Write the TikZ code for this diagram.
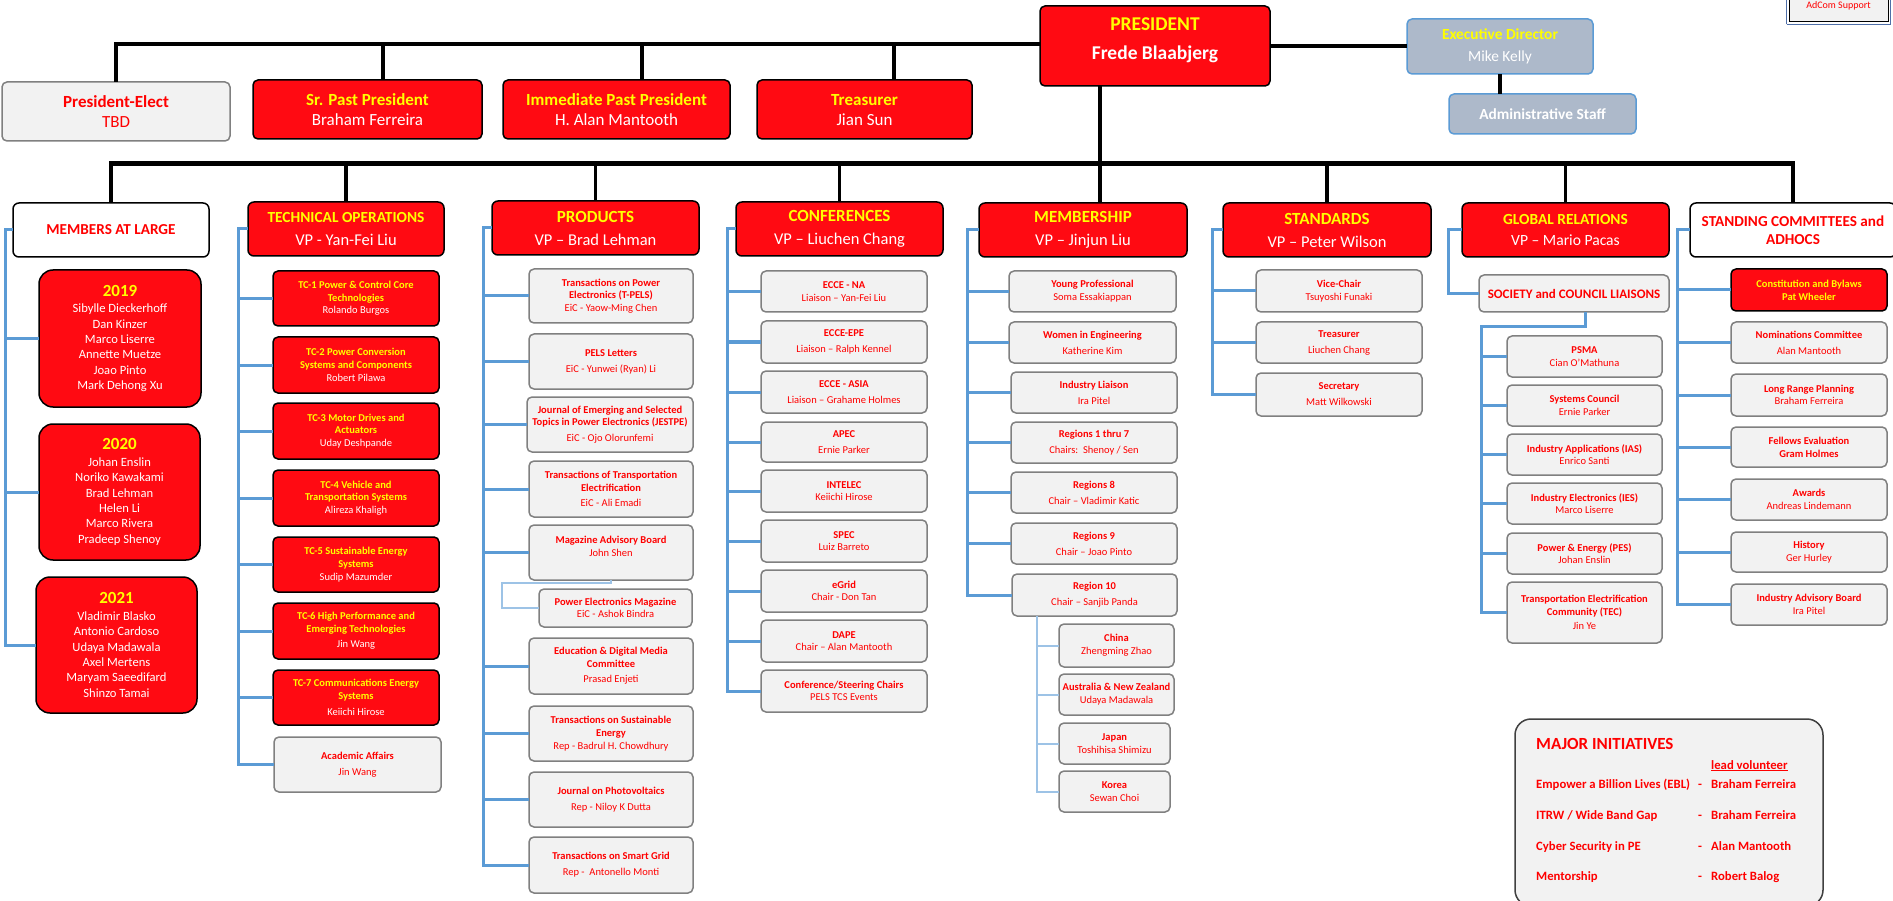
\documentclass[tikz,border=0pt]{standalone}
\usepackage{fontspec}
\setmainfont{Carlito}
\usetikzlibrary{calc}
\definecolor{rd}{HTML}{FF0A12}
\definecolor{yel}{HTML}{FFFF00}
\definecolor{rtx}{HTML}{FF0000}
\definecolor{gf}{HTML}{F2F2F2}
\definecolor{gd}{HTML}{808080}
\definecolor{lnb}{HTML}{5B9BD5}
\definecolor{lnl}{HTML}{9DC3E6}
\definecolor{edf}{HTML}{ADB9CA}
\definecolor{adb}{HTML}{4F6FA8}
\newcommand\TY[1]{{\bfseries\color{yel}#1}}
\newcommand\TB[1]{{\bfseries #1}}
\newcommand\YR[1]{{\fontsize{17}{17}\selectfont\bfseries\color{yel}#1}}
\newcommand\HT[2]{{\fontsize{#1}{#1}\selectfont\bfseries\color{yel}#2}}
\newcommand\obox[7]{%
  \pgfmathsetmacro\myW{#5-#3}%
  \pgfmathsetmacro\myH{#6-#4}%
  \node[#2, minimum width=\myW pt, minimum height=\myH pt] (#1) at ({(#3+#5)/2},{(#4+#6)/2}) {#7};}
\newcommand\colwire[4]{%
  \draw[bl] (#2.west) -- (#2.west -| #1) -- (#4.west -| #1) -- (#4.west);
  \foreach \nn in {#3} {\draw[bl] (\nn.west) -- (\nn.west -| #1);}}
\tikzset{
  bk/.style={draw=black, line width=4pt},
  busl/.style={draw=black, line width=5pt},
  drp/.style={draw=black, line width=3.5pt},
  bl/.style={draw=lnb, line width=3pt},
  lbl/.style={draw=lnl, line width=2pt},
  base/.style={align=center, inner sep=1pt, outer sep=0pt, rounded corners=5pt, line width=1.5pt},
  rbox/.style={base, fill=rd, draw=black, text=white, font=\fontsize{10.5}{12.7}\selectfont},
  gbox/.style={base, fill=gf, draw=gd, text=rtx, font=\fontsize{10.5}{12.7}\selectfont},
  hred/.style={rbox, rounded corners=6pt, font=\fontsize{16.5}{19}\selectfont},
  hwht/.style={base, rounded corners=6pt, fill=white, draw=black, text=rtx, font=\fontsize{15.2}{18}\selectfont},
  tred/.style={rbox, font=\fontsize{17}{19}\selectfont},
  tgry/.style={gbox, font=\fontsize{17}{19}\selectfont},
  yrbox/.style={rbox, rounded corners=14pt, font=\fontsize{12.6}{15.4}\selectfont},
  edbox/.style={base, fill=edf, draw=lnb, text=white, font=\fontsize{15.4}{18}\selectfont},
  socbox/.style={gbox, font=\fontsize{13}{15}\selectfont},
  adbox/.style={base, rounded corners=0pt, fill=gf, draw=black, line width=1pt, text=rtx, font=\fontsize{10}{12}\selectfont},
  mibox/.style={base, rounded corners=16pt, fill=gf, draw=black!75, line width=1.5pt},
  mitx/.style={text=rtx, font=\fontsize{12.7}{15}\selectfont\bfseries, inner sep=0pt, anchor=base west},
}
\begin{document}
\begin{tikzpicture}[x=1pt,y=-1pt]
\clip (0,0) rectangle (1893,901);
\fill[white] (0,0) rectangle (1893,901);

% ---------- top row ----------
\obox{pe}{tgry}{2}{82}{230}{141}{\raisebox{-2pt}[\height][\depth]{\begin{tabular}{@{}c@{}}\TB{President-Elect}\\[1pt]TBD\end{tabular}}}
\obox{spp}{tred}{253}{80}{482}{139}{\raisebox{-2pt}[\height][\depth]{\begin{tabular}{@{}c@{}}\TY{Sr. Past President}\\[1pt]Braham Ferreira\end{tabular}}}
\obox{ipp}{tred}{503}{80}{730}{139}{\raisebox{-2pt}[\height][\depth]{\begin{tabular}{@{}c@{}}\TY{Immediate Past President}\\[1pt]H. Alan Mantooth\end{tabular}}}
\obox{trs}{tred}{757}{80}{972}{139}{\raisebox{-2pt}[\height][\depth]{\begin{tabular}{@{}c@{}}\TY{Treasurer}\\[1pt]Jian Sun\end{tabular}}}
\obox{pres}{rbox}{1040}{6}{1270}{86}{\raisebox{5pt}[\height][\depth]{\fontsize{19.5}{22}\selectfont\begin{tabular}{@{}c@{}}\TY{PRESIDENT}\\[7pt]\TB{Frede Blaabjerg}\end{tabular}}}
\obox{ed}{edbox}{1407}{19}{1593}{74}{\TY{Executive Director}\\[4pt]Mike Kelly}
\obox{adm}{edbox}{1449}{94}{1636}{134}{\TB{Administrative Staff}}
\obox{adc}{adbox}{1789}{-10}{1888}{22}{AdCom Support}
\draw[adb, line width=1.5pt] ([shift={(-2.5,2.5)}]adc.south west) -- ([shift={(2.5,2.5)}]adc.south east) -- ([shift={(2.5,-2.5)}]adc.north east);
\draw[adb, line width=1.5pt] ([shift={(-2.5,2.5)}]adc.south west) -- ([shift={(-2.5,-2.5)}]adc.north west);

\coordinate (tl) at (115,44);
\draw[bk] (pe.north) -- (pe.north |- tl) -- (tl -| pres.west);
\draw[bk] ([xshift=15pt]spp.north) -- ([xshift=15pt]spp.north |- tl);
\draw[bk] ([xshift=25pt]ipp.north) -- ([xshift=25pt]ipp.north |- tl);
\draw[bk] ([xshift=29pt]trs.north) -- ([xshift=29pt]trs.north |- tl);
\draw[bk] (pres.east) -- (pres.east -| ed.west);
\draw[bk] (ed.south) -- (ed.south |- adm.north);

% ---------- column headers ----------
\obox{mal}{hwht}{13}{203}{209}{257}{\TB{MEMBERS AT LARGE}}
\obox{tec}{hred}{248}{202}{444}{256}{\HT{15.4}{TECHNICAL OPERATIONS}\\[4pt]VP - Yan-Fei Liu}
\obox{prd}{hred}{492}{201}{699}{255}{\HT{17}{PRODUCTS}\\[4pt]VP – Brad Lehman}
\obox{cnf}{hred}{736}{202}{943}{256}{\HT{17}{CONFERENCES}\\[4pt]VP – Liuchen Chang}
\obox{mem}{hred}{979}{203}{1187}{257}{\HT{17}{MEMBERSHIP}\\[4pt]VP – Jinjun Liu}
\obox{std}{hred}{1223}{203}{1431}{257}{\HT{17}{STANDARDS}\\[4pt]VP – Peter Wilson}
\obox{glb}{hred}{1462}{203}{1669}{257}{\HT{15.4}{GLOBAL RELATIONS}\\[2pt]\fontsize{15.6}{18}\selectfont VP – Mario Pacas}
\obox{stc}{hwht}{1690}{203}{1896}{257}{\TB{STANDING COMMITTEES and}\\[0pt]\TB{ADHOCS}}

\coordinate (busL) at (109,164);
\coordinate (busR) at (1795,164);
\draw[busl] (busL) -- (busR);
\draw[drp] ([xshift=-55pt]pres.south) -- ([xshift=-55pt]pres.south |- mem.north);
\foreach \hh in {mal,tec,prd,cnf,std,glb,stc} {\draw[drp] (\hh.north) -- (\hh.north |- busL);}

% ---------- members at large ----------
\obox{y19}{yrbox}{39}{270}{201}{407}{\YR{2019}\\[1pt]Sibylle Dieckerhoff\\Dan Kinzer\\Marco Liserre\\Annette Muetze\\Joao Pinto\\Mark Dehong Xu}
\obox{y20}{yrbox}{39}{424}{200}{560}{\YR{2020}\\[1pt]Johan Enslin\\Noriko Kawakami\\Brad Lehman\\Helen Li\\Marco Rivera\\Pradeep Shenoy}
\obox{y21}{yrbox}{36}{577}{197}{713}{\YR{2021}\\[1pt]Vladimir Blasko\\Antonio Cardoso\\Udaya Madawala\\Axel Mertens\\Maryam Saeedifard\\Shinzo Tamai}
\coordinate (vmal) at (5,0);
\colwire{vmal}{mal}{y19,y20}{y21}

% ---------- technical operations ----------
\obox{tc1}{rbox}{273}{271}{439}{326}{\TY{TC-1 Power \& Control Core}\\\TY{Technologies}\\Rolando Burgos}
\obox{tc2}{rbox}{273}{337}{439}{393}{\TY{TC-2 Power Conversion}\\\TY{Systems and Components}\\Robert Pilawa}
\obox{tc3}{rbox}{273}{403}{439}{459}{\TY{TC-3 Motor Drives and}\\\TY{Actuators}\\Uday Deshpande}
\obox{tc4}{rbox}{273}{470}{439}{526}{\TY{TC-4 Vehicle and}\\\TY{Transportation Systems}\\Alireza Khaligh}
\obox{tc5}{rbox}{273}{537}{439}{592}{\TY{TC-5 Sustainable Energy}\\\TY{Systems}\\Sudip Mazumder}
\obox{tc6}{rbox}{273}{603}{439}{659}{\TY{TC-6 High Performance and}\\\TY{Emerging Technologies}\\[3pt]Jin Wang}
\obox{tc7}{rbox}{273}{670}{439}{725}{\TY{TC-7 Communications Energy}\\\TY{Systems}\\[3pt]Keiichi Hirose}
\obox{aca}{gbox}{274}{737}{441}{792}{\TB{Academic Affairs}\\[3.3pt]Jin Wang}
\coordinate (vtec) at (238,0);
\colwire{vtec}{tec}{tc1,tc2,tc3,tc4,tc5,tc6,tc7}{aca}

% ---------- products ----------
\obox{p1}{gbox}{529}{269}{693}{323}{\TB{Transactions on Power}\\\TB{Electronics (T-PELS)}\\EiC - Yaow-Ming Chen}
\obox{p2}{gbox}{529}{334}{693}{389}{\TB{PELS Letters}\\[3.3pt]EiC - Yunwei (Ryan) Li}
\obox{p3}{gbox}{527}{397}{693}{452}{\TB{Journal of Emerging and Selected}\\\TB{Topics in Power Electronics (JESTPE)}\\[3pt]EiC - Ojo Olorunfemi}
\obox{p4}{gbox}{529}{461}{693}{517}{\TB{Transactions of Transportation}\\\TB{Electrification}\\[3pt]EiC - Ali Emadi}
\obox{p5}{gbox}{529}{525}{693}{580}{\raisebox{5pt}[\height][\depth]{\begin{tabular}{@{}c@{}}\TB{Magazine Advisory Board}\\John Shen\end{tabular}}}
\obox{pem}{gbox}{539}{589}{692}{627}{\TB{Power Electronics Magazine}\\EiC - Ashok Bindra}
\obox{p6}{gbox}{529}{638}{693}{694}{\TB{Education \& Digital Media}\\\TB{Committee}\\[3pt]Prasad Enjeti}
\obox{p7}{gbox}{529}{706}{693}{761}{\TB{Transactions on Sustainable}\\\TB{Energy}\\Rep - Badrul H. Chowdhury}
\obox{p8}{gbox}{529}{772}{693}{827}{\TB{Journal on Photovoltaics}\\[3.3pt]Rep - Niloy K Dutta}
\obox{p9}{gbox}{529}{837}{693}{893}{\TB{Transactions on Smart Grid}\\[3.3pt]Rep -\ \ Antonello Monti}
\coordinate (vprd) at (483,0);
\colwire{vprd}{prd}{p1,p2,p3,p4,p5,p6,p7,p8}{p9}
\coordinate (pbk) at (502,583);
\draw[lbl] (p5.south) |- (pbk) |- (pem.west);

% ---------- conferences ----------
\obox{c1}{gbox}{761}{271}{927}{312}{\TB{ECCE - NA}\\Liaison – Yan-Fei Liu}
\obox{c2}{gbox}{761}{321}{927}{363}{\TB{ECCE-EPE}\\[3.3pt]Liaison – Ralph Kennel}
\obox{c3}{gbox}{761}{371}{927}{413}{\TB{ECCE - ASIA}\\[3.3pt]Liaison – Grahame Holmes}
\obox{c4}{gbox}{761}{422}{927}{462}{\TB{APEC}\\[3.3pt]Ernie Parker}
\obox{c5}{gbox}{761}{470}{927}{512}{\TB{INTELEC}\\Keiichi Hirose}
\obox{c6}{gbox}{761}{520}{927}{562}{\TB{SPEC}\\Luiz Barreto}
\obox{c7}{gbox}{761}{570}{927}{612}{\TB{eGrid}\\Chair - Don Tan}
\obox{c8}{gbox}{761}{620}{927}{662}{\TB{DAPE}\\Chair – Alan Mantooth}
\obox{c9}{gbox}{761}{670}{927}{712}{\TB{Conference/Steering Chairs}\\PELS TCS Events}
\coordinate (vcnf) at (727,0);
\colwire{vcnf}{cnf}{c1,c2,c3,c4,c5,c6,c7,c8}{c9}

% ---------- membership ----------
\obox{m1}{gbox}{1009}{271}{1176}{312}{\TB{Young Professional}\\Soma Essakiappan}
\obox{m2}{gbox}{1009}{322}{1176}{363}{\TB{Women in Engineering}\\[3.3pt]Katherine Kim}
\obox{m3}{gbox}{1011}{372}{1177}{413}{\TB{Industry Liaison}\\[3.3pt]Ira Pitel}
\obox{m4}{gbox}{1011}{422}{1177}{463}{\TB{Regions 1 thru 7}\\[3.3pt]Chairs:\ \ Shenoy / Sen}
\obox{m5}{gbox}{1011}{472}{1177}{513}{\TB{Regions 8}\\[3.3pt]Chair – Vladimir Katic}
\obox{m6}{gbox}{1011}{523}{1177}{564}{\TB{Regions 9}\\[3.3pt]Chair – Joao Pinto}
\obox{m7}{gbox}{1012}{574}{1177}{616}{\TB{Region 10}\\[3.3pt]Chair – Sanjib Panda}
\coordinate (vmem) at (967,0);
\colwire{vmem}{mem}{m1,m2,m3,m4,m5,m6}{m7}
\obox{r1}{gbox}{1059}{624}{1174}{667}{\TB{China}\\Zhengming Zhao}
\obox{r2}{gbox}{1059}{674}{1174}{715}{\TB{Australia \& New Zealand}\\Udaya Madawala}
\obox{r3}{gbox}{1059}{723}{1170}{764}{\TB{Japan}\\Toshihisa Shimizu}
\obox{r4}{gbox}{1059}{771}{1170}{812}{\TB{Korea}\\Sewan Choi}
\coordinate (vreg) at (1037,0);
\draw[lbl] (m7.south -| vreg) -- (r4.west -| vreg) -- (r4.west);
\foreach \nn in {r1,r2,r3} {\draw[lbl] (\nn.west) -- (\nn.west -| vreg);}

% ---------- standards ----------
\obox{s1}{gbox}{1256}{270}{1422}{312}{\TB{Vice-Chair}\\Tsuyoshi Funaki}
\obox{s2}{gbox}{1256}{322}{1422}{363}{\TB{Treasurer}\\[3.3pt]Liuchen Chang}
\obox{s3}{gbox}{1256}{373}{1422}{416}{\TB{Secretary}\\[3.3pt]Matt Wilkowski}
\coordinate (vstd) at (1212,0);
\colwire{vstd}{std}{s1,s2}{s3}

% ---------- global relations ----------
\obox{soc}{socbox}{1479}{275}{1669}{312}{\TB{SOCIETY and COUNCIL LIAISONS}}
\coordinate (vglb) at (1448,0);
\draw[bl] (glb.west) -- (glb.west -| vglb) -- (soc.west -| vglb) -- (soc.west);
\obox{g1}{gbox}{1507}{336}{1662}{377}{\TB{PSMA}\\Cian O’Mathuna}
\obox{g2}{gbox}{1507}{385}{1662}{426}{\TB{Systems Council}\\Ernie Parker}
\obox{g3}{gbox}{1507}{434}{1662}{475}{\TB{Industry Applications (IAS)}\\Enrico Santi}
\obox{g4}{gbox}{1507}{483}{1662}{524}{\TB{Industry Electronics (IES)}\\Marco Liserre}
\obox{g5}{gbox}{1507}{533}{1662}{574}{\TB{Power \& Energy (PES)}\\Johan Enslin}
\obox{g6}{gbox}{1507}{582}{1662}{643}{\TB{Transportation Electrification}\\\TB{Community (TEC)}\\[2pt]Jin Ye}
\coordinate (gbus) at (1481,327);
\draw[bl] ([xshift=11pt]soc.south) |- (gbus) -- (gbus |- g6.west) -- (g6.west);
\foreach \nn in {g1,g2,g3,g4,g5} {\draw[bl] (\nn.west) -- (\nn.west -| gbus);}

% ---------- standing committees ----------
\obox{k1}{rbox}{1731}{269}{1887}{311}{\TY{Constitution and Bylaws}\\\TY{Pat Wheeler}}
\obox{k2}{gbox}{1731}{322}{1887}{363}{\TB{Nominations Committee}\\[3.3pt]Alan Mantooth}
\obox{k3}{gbox}{1731}{374}{1887}{416}{\TB{Long Range Planning}\\Braham Ferreira}
\obox{k4}{gbox}{1731}{427}{1887}{467}{\TB{Fellows Evaluation}\\\TB{Gram Holmes}}
\obox{k5}{gbox}{1731}{479}{1887}{520}{\TB{Awards}\\Andreas Lindemann}
\obox{k6}{gbox}{1731}{532}{1887}{572}{\TB{History}\\Ger Hurley}
\obox{k7}{gbox}{1731}{584}{1887}{625}{\TB{Industry Advisory Board}\\Ira Pitel}
\coordinate (vstc) at (1677,0);
\colwire{vstc}{stc}{k1,k2,k3,k4,k5,k6}{k7}

% ---------- major initiatives ----------
\obox{mi}{mibox}{1515}{719}{1823}{906}{}
\node[mitx] (mit) at (1536,749) {\fontsize{17}{19}\selectfont MAJOR INITIATIVES};
\node[mitx] (lv) at (1711,769) {\underline{lead volunteer}};
\node[mitx] (a1) at (1536,788) {Empower a Billion Lives (EBL)};
\node[mitx] (d1) at (1698,788) {-};
\node[mitx] (b1) at (1711,788) {Braham Ferreira};
\node[mitx] (a2) at (1536,819) {ITRW / Wide Band Gap};
\node[mitx] (d2) at (1698,819) {-};
\node[mitx] (b2) at (1711,819) {Braham Ferreira};
\node[mitx] (a3) at (1536,850) {Cyber Security in PE};
\node[mitx] (d3) at (1698,850) {-};
\node[mitx] (b3) at (1711,850) {Alan Mantooth};
\node[mitx] (a4) at (1536,880) {Mentorship};
\node[mitx] (d4) at (1698,880) {-};
\node[mitx] (b4) at (1711,880) {Robert Balog};
\end{tikzpicture}
\end{document}
